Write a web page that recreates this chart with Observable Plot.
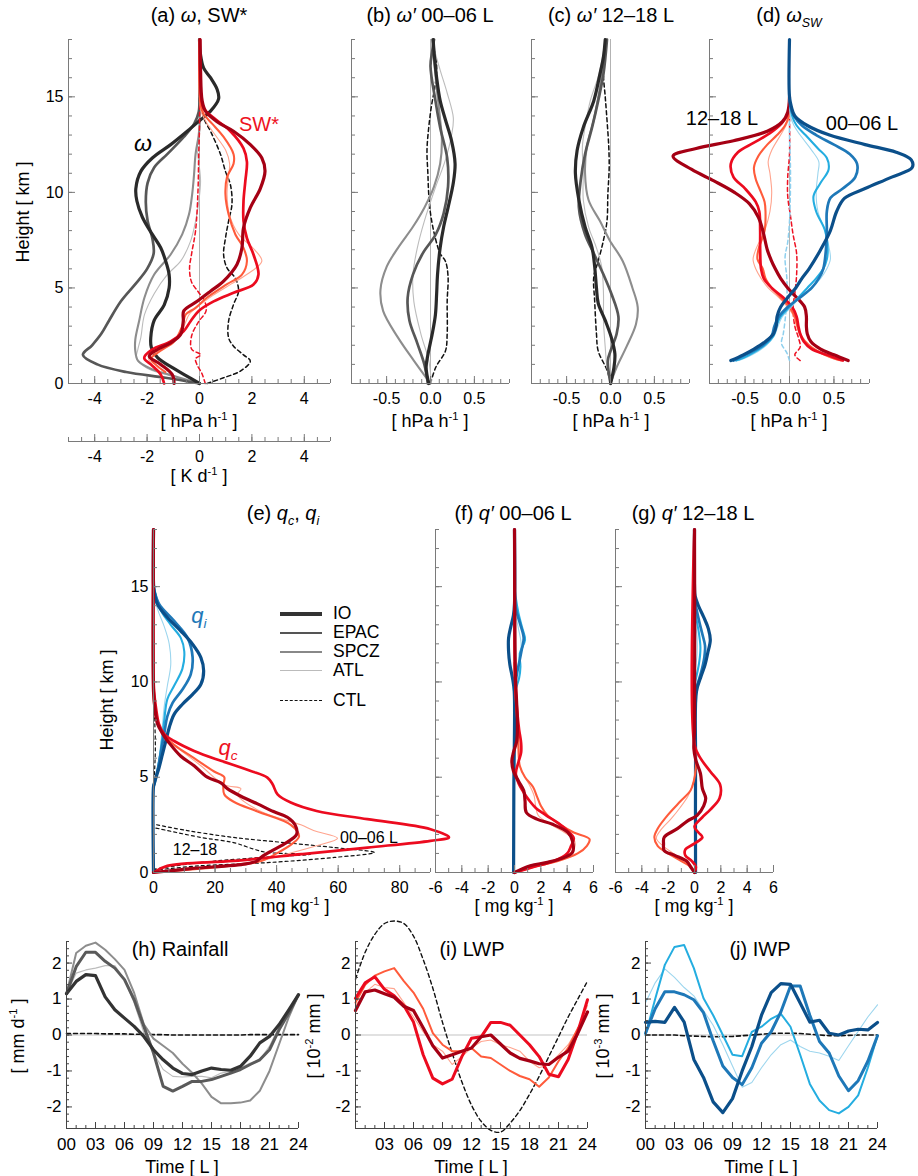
<!DOCTYPE html>
<html><head><meta charset="utf-8">
<script src="https://cdn.jsdelivr.net/npm/d3@7"></script>
<script src="https://cdn.jsdelivr.net/npm/@observablehq/plot@0.6"></script>
<style>
body{margin:0;background:#fff;font-family:"Liberation Sans",Arial,Helvetica,sans-serif;}
#root{position:relative;width:918px;height:1176px;overflow:hidden;background:#fff;}
.abs{position:absolute;white-space:nowrap;line-height:1;}
sup,sub{font-size:0.62em;line-height:0;}
</style></head><body><div id="root"></div>
<script>
// ================= DATA =================
// profiles: [height km, value]
// (a) omega [hPa/h]
const omegaIO   = [[0,0],[0.4,-0.5],[0.8,-1.0],[1.35,-1.6],[1.9,-1.84],[2.4,-1.86],[3.3,-1.73],[4.1,-1.35],[5.0,-1.16],[5.7,-1.16],[6.4,-1.29],[7.1,-1.48],[7.8,-1.8],[8.7,-2.18],[9.55,-2.39],[10.2,-2.43],[11.1,-2.24],[11.8,-1.8],[12.5,-1.1],[13.2,-0.47],[13.8,0.04],[14.25,0.42],[14.9,0.73],[15.4,0.67],[16.0,0.42],[16.5,0.16],[17.2,0.04],[18,0]];
const omegaEPAC = [[0,0],[0.3,-1.3],[0.6,-2.8],[1.0,-3.9],[1.5,-4.45],[2.0,-4.1],[2.6,-3.75],[3.3,-3.45],[4.3,-3.0],[5.2,-2.45],[6.0,-2.0],[6.8,-1.75],[7.6,-1.8],[8.5,-1.98],[9.5,-2.05],[10.5,-1.98],[11.3,-1.73],[12.0,-1.23],[12.9,-0.6],[13.6,-0.2],[14.2,-0.03],[15,0],[18,0]];
const omegaSPCZ = [[0,0],[0.4,-1.0],[0.8,-1.9],[1.2,-2.35],[1.7,-2.45],[2.3,-2.45],[3.3,-2.3],[4.5,-2.1],[5.7,-1.73],[6.75,-1.1],[7.8,-0.66],[8.85,-0.4],[9.9,-0.28],[10.9,-0.21],[12.0,-0.15],[13.0,-0.03],[13.5,0],[18,0]];
const omegaATL  = [[0,0],[0.4,-1.1],[0.8,-2.0],[1.3,-2.4],[1.8,-2.35],[2.4,-2.24],[3.6,-2.1],[4.7,-1.73],[5.7,-1.23],[6.4,-0.72],[7.45,-0.34],[8.5,-0.15],[9.5,-0.03],[10.6,0.04],[11.6,-0.03],[12.3,-0.09],[13.0,0],[18,0]];
// (a) SW* [K/d]
const swIO   = [[0,-0.97],[0.47,-1.04],[1.0,-1.48],[1.43,-1.92],[1.78,-1.6],[2.13,-1.1],[2.57,-0.72],[3.26,-0.62],[3.8,-0.6],[4.3,-0.09],[4.83,0.42],[5.36,0.92],[6.23,1.43],[7.1,1.62],[8.15,1.68],[9.2,1.94],[10.2,2.32],[11.1,2.5],[11.8,2.38],[12.5,1.94],[13.2,1.3],[13.7,0.67],[14.25,0.23],[14.8,0.1],[16.4,0.04],[18,0.02]];
const swEPAC = [[0,-1.35],[0.47,-1.48],[1.0,-1.86],[1.34,-2.11],[1.78,-1.8],[2.2,-1.1],[2.74,-0.6],[3.26,-0.34],[3.8,-0.03],[4.3,0.54],[4.75,1.3],[5.18,2.06],[5.7,2.25],[6.75,2.06],[7.6,1.81],[8.5,1.68],[9.55,1.68],[10.6,1.75],[11.6,1.81],[12.3,1.68],[13.2,1.18],[13.9,0.54],[14.4,0.16],[15,0.06],[18,0.02]];
const swSPCZ = [[0.6,-1.3],[0.9,-1.6],[1.3,-1.85],[1.7,-1.5],[2.2,-0.97],[3.0,-0.66],[3.6,-0.53],[3.96,-0.15],[4.5,0.29],[5.2,1.05],[5.7,1.62],[6.4,1.81],[7.1,1.68],[7.8,1.37],[8.85,1.11],[9.9,0.99],[10.8,1.05],[11.5,1.3],[12.0,1.3],[12.9,0.92],[13.6,0.48],[14.1,0.16],[14.6,0.04],[18,0]];
const swATL  = [[0.6,-1.5],[1.0,-1.8],[1.35,-1.95],[1.8,-1.45],[2.3,-0.95],[3.0,-0.6],[3.6,-0.4],[4.1,0.0],[4.6,0.5],[5.2,1.2],[5.7,1.8],[6.4,2.38],[7.0,2.1],[7.8,1.5],[8.8,1.15],[9.9,1.05],[10.8,1.1],[11.5,1.15],[12.2,1.0],[13.0,0.6],[13.7,0.25],[14.3,0.05],[18,0]];
const ctlA1 = [[0,0.29],[0.3,0.92],[0.65,1.56],[1.17,1.94],[1.5,1.68],[1.95,1.3],[2.4,1.11],[3.26,1.11],[4.14,1.3],[4.83,1.49],[5.5,1.37],[6.05,1.05],[6.75,0.92],[7.6,0.99],[8.5,1.11],[9.4,1.24],[10.4,1.18],[11.1,0.99],[12.0,0.8],[13.2,0.42],[13.9,0.16],[15,0.04],[18,0]];
const ctlA2 = [[0,0.22],[0.5,0.1],[1.0,-0.1],[1.3,-0.15],[1.5,0.05],[1.8,-0.3],[2.5,-0.3],[3.2,-0.05],[3.8,0.25],[4.3,0.2],[4.8,-0.05],[5.3,-0.3],[6,-0.38],[6.8,-0.3],[8,-0.15],[10,-0.06],[12,-0.03],[13.5,0],[18,0]];
// (b) omega' 00-06 L
const bIO   = [[0,-0.02],[0.85,-0.05],[1.5,-0.03],[2.6,0.02],[3.6,0.056],[4.7,0.07],[5.7,0.08],[7.1,0.11],[8.2,0.15],[9.2,0.2],[10.5,0.26],[11.5,0.28],[12.7,0.24],[13.8,0.17],[14.8,0.11],[16,0.07],[17.1,0.045],[18,0.03]];
const bEPAC = [[0,-0.03],[1,-0.07],[2.1,-0.15],[3.3,-0.24],[4.5,-0.26],[5.7,-0.2],[6.8,-0.09],[7.8,0.06],[8.9,0.15],[10.3,0.2],[11.8,0.19],[13.4,0.11],[14.8,0.056],[16.6,0.0],[17.4,0.02],[18,0.04]];
const bSPCZ = [[0,0],[1.2,-0.19],[2.4,-0.37],[3.8,-0.54],[4.9,-0.57],[6.1,-0.5],[7.1,-0.37],[8.2,-0.2],[9.2,-0.07],[10.3,0.04],[11.5,0.11],[12.7,0.13],[13.8,0.11],[15.5,0.07],[16.9,0.04],[18,0.02]];
const bATL  = [[0,0.01],[1.2,-0.02],[2.6,-0.11],[4.3,-0.19],[5.7,-0.2],[7.1,-0.15],[8.5,-0.07],[10.3,0.06],[11.7,0.17],[13.0,0.24],[13.9,0.26],[15.2,0.19],[16.4,0.11],[17.4,0.05],[18,0.04]];
const bCTL  = [[0,0],[0.85,0.06],[1.7,0.17],[2.6,0.19],[4.3,0.19],[5.6,0.2],[6.4,0.17],[6.8,0.11],[7.8,0.045],[8.9,0.0],[9.9,-0.02],[11,-0.03],[12.2,-0.04],[13.4,-0.02],[14.5,0.01],[15.7,0.056],[16.6,0.07],[17.4,0.045],[18,0.03]];
// (c) omega' 12-18 L
const cIO   = [[0,0],[0.85,0.04],[1.55,0.05],[2.4,0.01],[3.3,-0.06],[4.2,-0.14],[5.0,-0.16],[6.1,-0.18],[7.1,-0.21],[8.2,-0.29],[9.6,-0.36],[11.0,-0.4],[12.2,-0.38],[13.4,-0.31],[14.8,-0.19],[16.2,-0.12],[17.1,-0.08],[18,-0.06]];
const cEPAC = [[0,0],[1.2,-0.03],[1.7,0.0],[2.6,0.07],[3.5,0.09],[4.7,0.01],[5.7,-0.08],[6.8,-0.19],[7.8,-0.29],[9.2,-0.36],[10.6,-0.34],[12.0,-0.29],[13.4,-0.21],[14.8,-0.14],[16.2,-0.08],[18,-0.04]];
const cSPCZ = [[0,0],[0.85,0.07],[1.9,0.18],[3.1,0.29],[4.0,0.31],[5.0,0.25],[6.4,0.14],[7.5,-0.01],[8.5,-0.12],[9.6,-0.25],[11.0,-0.29],[12.4,-0.27],[13.8,-0.19],[15.5,-0.12],[16.9,-0.08],[18,-0.06]];
const cATL  = [[0,0],[0.85,-0.04],[1.9,-0.06],[3.3,-0.08],[4.7,-0.08],[6.1,-0.1],[7.1,-0.16],[8.2,-0.25],[9.6,-0.31],[11.0,-0.31],[12.4,-0.32],[13.4,-0.29],[14.8,-0.23],[16.2,-0.13],[17.4,-0.08],[18,-0.06]];
const cCTL  = [[0,0],[0.7,-0.04],[1.7,-0.14],[2.6,-0.16],[4.3,-0.18],[5.6,-0.19],[6.4,-0.14],[7.5,-0.08],[8.5,-0.04],[9.9,-0.03],[11.3,-0.015],[12.4,-0.02],[13.8,-0.04],[15,-0.06],[16.2,-0.08],[17.4,-0.06],[18,-0.04]];
// (d) omega_SW : blue 00-06 L, red 12-18 L
const dBlueIO   = [[1.2,-0.66],[1.5,-0.52],[1.8,-0.4],[2.2,-0.27],[2.6,-0.18],[3,-0.15],[3.5,-0.14],[4,-0.1],[4.5,-0.02],[5,0.07],[5.5,0.14],[6,0.22],[7,0.35],[8,0.46],[9,0.53],[9.7,0.62],[10.2,0.85],[10.8,1.15],[11.3,1.38],[11.7,1.37],[12.1,1.2],[12.5,0.85],[13,0.45],[13.5,0.2],[14,0.06],[14.5,0.02],[15,0],[18,0]];
const dBlueEPAC = [[1.2,-0.63],[1.5,-0.5],[2,-0.3],[2.5,-0.2],[3,-0.17],[3.5,-0.12],[4,-0.02],[4.5,0.12],[5,0.25],[5.5,0.33],[6,0.38],[7,0.41],[8,0.42],[9,0.42],[9.7,0.46],[10.2,0.6],[10.8,0.74],[11.5,0.76],[12,0.68],[12.5,0.5],[13,0.3],[13.5,0.14],[14,0.05],[14.5,0.01],[15,0]];
const dBlueSPCZ = [[1.2,-0.6],[1.5,-0.45],[2,-0.28],[2.5,-0.18],[3,-0.15],[3.5,-0.1],[4,0.0],[4.5,0.1],[5,0.2],[5.5,0.3],[6,0.38],[6.5,0.42],[7,0.43],[8,0.4],[9,0.3],[9.8,0.27],[10.5,0.35],[11.2,0.44],[11.8,0.42],[12.3,0.32],[13,0.18],[13.5,0.08],[14,0.03],[15,0]];
const dBlueATL  = [[1.2,-0.57],[1.5,-0.42],[2,-0.26],[2.5,-0.17],[3,-0.13],[3.5,-0.08],[4,0.02],[4.5,0.12],[5,0.25],[5.5,0.35],[6,0.42],[6.5,0.46],[7,0.45],[8,0.4],[9,0.32],[10,0.3],[11,0.32],[11.6,0.33],[12.2,0.25],[13,0.12],[13.5,0.05],[14,0.01],[15,0]];
const dRedIO    = [[1.2,0.66],[1.5,0.5],[1.8,0.35],[2.2,0.24],[2.6,0.2],[3,0.19],[3.5,0.19],[4,0.17],[4.5,0.08],[5,-0.02],[5.5,-0.1],[6,-0.16],[6.5,-0.21],[7,-0.25],[8,-0.3],[8.7,-0.35],[9.4,-0.45],[10,-0.62],[10.6,-0.85],[11.2,-1.1],[11.9,-1.31],[12.3,-1.05],[12.7,-0.63],[13.2,-0.25],[13.7,-0.08],[14.2,-0.02],[15,0]];
const dRedEPAC  = [[1.2,0.6],[1.5,0.42],[1.8,0.25],[2.2,0.16],[2.6,0.12],[3,0.1],[3.5,0.08],[4,0.03],[4.5,-0.07],[5,-0.2],[5.5,-0.29],[6,-0.32],[7,-0.33],[8,-0.33],[9,-0.34],[9.5,-0.38],[10.2,-0.5],[10.8,-0.63],[11.5,-0.66],[12.1,-0.58],[12.6,-0.4],[13.1,-0.22],[13.6,-0.09],[14,-0.03],[14.5,0]];
const dRedSPCZ  = [[1.2,0.58],[1.5,0.4],[2,0.22],[2.5,0.13],[3,0.09],[3.5,0.06],[4,0.0],[4.5,-0.1],[5,-0.2],[5.5,-0.27],[6,-0.3],[6.5,-0.36],[7,-0.35],[8,-0.28],[9,-0.27],[9.5,-0.28],[10,-0.32],[10.7,-0.38],[11.3,-0.4],[11.9,-0.35],[12.5,-0.25],[13,-0.14],[13.5,-0.05],[14,-0.01],[15,0]];
const dRedATL   = [[1.2,0.55],[1.5,0.38],[2,0.2],[2.5,0.12],[3,0.08],[3.5,0.05],[4,-0.02],[4.5,-0.12],[5,-0.24],[5.5,-0.32],[6,-0.38],[6.5,-0.41],[7,-0.38],[8,-0.28],[9,-0.22],[10,-0.2],[11,-0.22],[11.6,-0.24],[12.2,-0.2],[13,-0.1],[13.5,-0.04],[14,0],[15,0]];
const dRedCTL   = [[1.2,0.12],[1.5,0.06],[1.9,0.12],[2.4,0.1],[3,0.06],[4,0.04],[4.7,0.06],[5.7,0.08],[6.8,0.08],[7.8,0.04],[8.8,0.01],[9.8,-0.02],[10.8,-0.02],[12,0],[14,0]];
const dBlueCTL  = [[1.2,0.0],[1.6,-0.03],[2.1,-0.09],[2.6,-0.07],[3.3,-0.05],[4.3,-0.03],[5.5,-0.03],[6.6,-0.05],[7.4,-0.02],[8.5,0],[10,0.01],[11.5,0.01],[13,0],[14,0]];
// (e) q_i, q_c [mg/kg]
const qiIO   = [[0,0],[4.5,0],[4.63,0.2],[4.98,0.8],[5.5,1.8],[6.2,2.9],[6.9,4.0],[7.6,5.1],[8.3,6.7],[8.83,9.4],[9.35,12.7],[9.88,15.4],[10.58,16.3],[11.28,15.4],[11.98,12.7],[12.67,8.9],[13.37,4.6],[14.07,1.3],[14.77,0.2],[15.2,0],[18,0]];
const qiEPAC = [[4.5,0],[4.8,0.5],[5.5,1.5],[6.5,2.6],[7.3,3.5],[8.2,4.5],[8.9,6.2],[9.6,9.4],[10.4,12.1],[11.3,12.7],[12.3,11.1],[13.2,6.7],[14.1,1.8],[14.8,0.3],[15.2,0]];
const qiSPCZ = [[4.6,0],[5,0.8],[6,2.0],[7,2.8],[8,3.5],[9.1,4.5],[9.8,6.7],[10.7,9.4],[11.6,10.0],[12.3,8.9],[13.0,5.6],[13.75,2.4],[14.5,0.8],[15,0]];
const qiATL  = [[4.6,0],[5,0.7],[6,1.8],[7,2.5],[7.7,2.9],[8.75,3.5],[9.8,4.5],[10.9,5.6],[12.0,5.1],[12.9,3.5],[13.6,1.8],[14.1,0.8],[14.5,0.2],[14.8,0]];
const qcIO   = [[0,0],[0.2,12],[0.45,30],[0.6,33.5],[0.8,35],[1.1,38],[1.5,42.5],[2.0,46.5],[2.5,46],[2.9,43.5],[3.2,39],[3.6,33.8],[4.0,28.4],[4.4,24],[4.7,21.9],[5.0,17.5],[5.6,13.2],[6.1,8.9],[6.8,5.1],[7.3,2.9],[7.8,1.3],[8.7,0.4],[9.5,0],[18,0]];
const qcEPAC = [[0,0],[0.35,4.5],[0.61,26],[0.96,48],[1.31,69.5],[1.66,90],[1.85,96],[2.27,90],[2.8,69.5],[3.23,53],[3.67,44.6],[4.1,40.3],[4.63,38.7],[4.98,37],[5.33,31.6],[5.86,21.9],[6.38,13.2],[6.9,6.7],[7.26,3.5],[7.78,1.8],[8.65,0.8],[9.5,0.2],[10.5,0],[18,0]];
const qcSPCZ = [[0,0],[0.3,22],[0.6,35],[1.0,40],[1.5,45],[1.9,47.3],[2.5,44.6],[3.2,33.8],[3.7,26.2],[4.1,23],[4.6,22.7],[5.0,23],[5.3,19.7],[6.0,13.2],[6.7,6.7],[7.2,3.5],[7.8,1.5],[8.5,0.4],[9.5,0]];
const qcATL  = [[0,0],[0.3,20],[0.6,34],[1.0,44],[1.4,53],[1.8,59.8],[2.2,52],[2.5,47.9],[3.2,34.9],[4.1,27.3],[4.4,28.4],[4.6,23],[5.6,15.4],[6.7,6.7],[7.4,2.4],[8.5,0.4],[9.5,0]];
const qcCTL0006 = [[0.12,0],[0.35,15],[0.52,37],[0.79,58.7],[1.05,71.7],[1.31,58.7],[1.57,42.5],[1.84,26],[2.2,11],[2.53,0.2]];
const qcCTL1218 = [[0.17,0],[0.52,15],[0.79,35],[0.96,51],[1.05,37],[1.22,32.7],[1.57,26],[1.84,15.4],[2.36,0]];
const qiCTL = [[4.5,0],[5.5,0.4],[6.5,0.6],[7.5,0.5],[8.5,0.2],[9.2,0]];
// (f) q' 00-06 L
const fRedIO   = [[0,0],[0.35,1.2],[0.52,2.4],[0.7,3.4],[1.05,4.4],[1.66,4.4],[2.1,4.05],[2.53,2.9],[2.8,1.7],[3.15,0.9],[3.76,0.8],[4.3,0.7],[4.8,0.3],[5.33,-0.08],[5.86,-0.2],[6.3,-0.08],[6.9,0.17],[7.8,0.22],[8.8,0.17],[10.2,0.08],[13,0.03],[18,0]];
const fRedEPAC = [[0,0],[0.3,1.5],[0.6,3.0],[1.0,4.0],[1.4,4.3],[1.8,4.5],[2.2,4.0],[2.6,3.3],[3.0,2.4],[3.4,1.6],[3.8,1.1],[4.2,0.7],[4.7,0.3],[5.2,0.1],[5.8,0.3],[6.3,0.5],[6.8,0.5],[7.5,0.35],[8.5,0.2],[10,0.05],[12,0],[18,0]];
const fRedSPCZ = [[0,0],[0.3,1.5],[0.6,3.3],[1.0,4.8],[1.4,5.5],[1.75,5.7],[2.1,4.5],[2.5,3.5],[3.0,2.5],[3.5,2.0],[4.0,1.7],[4.5,1.4],[5.0,0.8],[5.6,0.4],[6.5,0.3],[7.5,0.25],[9,0.1],[11,0]];
const fRedATL  = [[0,0],[0.3,1.3],[0.6,3.0],[1.0,4.2],[1.4,4.6],[1.75,4.5],[2.1,3.8],[2.5,2.8],[3.0,1.8],[3.5,1.6],[4.0,1.5],[4.5,1.2],[5.0,0.8],[5.6,0.4],[6.5,0.35],[7.5,0.3],[9,0.1],[11,0]];
const fBlueIO   = [[0,-0.07],[4.5,-0.05],[9.5,-0.02],[10.2,-0.15],[10.9,-0.35],[11.6,-0.45],[12.3,-0.45],[12.9,-0.28],[13.5,-0.08],[14.1,0],[18,0]];
const fBlueEPAC = [[9.5,0],[10.3,0.15],[11.0,0.35],[11.7,0.55],[12.3,0.7],[13.0,0.45],[13.7,0.15],[14.3,0]];
const fBlueSPCZ = [[9.0,0],[9.5,0.05],[10.2,0.35],[10.8,0.45],[11.5,0.4],[12.2,0.8],[12.8,0.6],[13.6,0.3],[14.5,0.08],[15,0]];
const fBlueATL  = [[9.5,0],[10,0.1],[11,0.3],[12,0.5],[12.8,0.3],[13.5,0.1],[14.5,0]];
// (g) q' 12-18 L
const gRedIO   = [[0,0],[0.3,-0.3],[0.6,-0.6],[0.9,-1.5],[1.15,-2.3],[1.5,-2.35],[1.85,-2.3],[2.3,-1.3],[2.7,-0.55],[3.0,0.2],[3.5,0.7],[3.9,0.85],[4.4,0.6],[5.2,0.45],[5.9,0.1],[6.5,-0.05],[7.5,0],[18,0]];
const gRedEPAC = [[0,0],[0.3,0.1],[0.6,-0.2],[0.9,-0.7],[1.2,-0.7],[1.5,-0.05],[1.85,0.6],[2.1,0.3],[2.4,0.0],[2.9,0.6],[3.3,1.2],[3.9,1.9],[4.6,1.95],[5.3,1.2],[6.0,0.45],[6.7,0],[18,0]];
const gRedSPCZ = [[0,0],[0.3,-0.3],[0.6,-1.0],[1.0,-2.0],[1.4,-2.8],[1.85,-3.05],[2.3,-2.8],[3.0,-2.05],[3.75,-1.05],[4.3,-0.3],[4.8,-0.05],[5.5,0.1],[6.5,0]];
const gRedATL  = [[0,0],[0.3,-0.2],[0.6,-0.8],[1.0,-1.6],[1.4,-2.4],[1.8,-2.9],[2.2,-2.6],[2.8,-1.8],[3.4,-1.1],[4.0,-0.5],[4.5,-0.2],[5.0,0],[6,0.1],[7,0]];
const gBlueIO   = [[0,0.08],[6,0.08],[9.5,0.15],[10.3,0.5],[10.9,0.8],[11.5,1.0],[12.2,1.2],[12.8,1.05],[13.4,0.7],[14.0,0.3],[14.5,0.05],[15,0],[18,0]];
const gBlueEPAC = [[9.5,0.05],[10.5,0.5],[11.3,0.75],[11.9,0.8],[12.5,0.6],[13.2,0.35],[14.0,0.1],[14.5,0]];
const gBlueSPCZ = [[10,0.05],[11,0.35],[11.8,0.45],[12.5,0.35],[13.3,0.15],[14,0]];
const gBlueATL  = [[10.5,0.03],[11.5,0.2],[12.3,0.2],[13.3,0.05],[14,0]];
// time series (hour 0..24 local)
const hours = [0,1,2,3,4,5,6,7,8,9,10,11,12,13,14,15,16,17,18,19,20,21,22,23,24];
const hourLabels = ["00","03","06","09","12","15","18","21","24"];
const rainIO   = [1.15,1.49,1.68,1.65,1.06,0.7,0.47,0.24,-0.04,-0.41,-0.69,-0.92,-1.07,-1.1,-1.0,-0.92,-0.96,-0.98,-0.87,-0.59,-0.22,-0.04,0.29,0.7,1.12];
const rainEPAC = [1.15,1.9,2.3,2.3,2.05,1.86,1.54,0.98,0.24,-0.5,-1.43,-1.56,-1.43,-1.29,-1.29,-1.24,-1.15,-1.06,-0.96,-0.82,-0.69,-0.41,0.15,0.61,1.12];
const rainSPCZ = [1.15,2.28,2.48,2.57,2.37,2.11,1.81,1.17,0.3,-0.1,-0.3,-0.5,-0.8,-1.05,-1.35,-1.72,-1.9,-1.9,-1.88,-1.82,-1.55,-1.0,-0.25,0.5,1.12];
const rainATL  = [1.15,1.72,1.81,1.86,1.93,1.93,1.54,0.89,0.06,-0.5,-0.96,-1.15,-1.17,-1.15,-1.15,-1.19,-1.06,-1.01,-0.92,-0.78,-0.69,-0.31,0.24,0.7,1.12];
const rainCTL  = [0.04,0.04,0.04,0.04,0.03,0.03,0.03,0.02,0.02,0.01,0.01,0,0,0,0,0,0,0,0,0.01,0.01,0.01,0.01,0.01,0.01];
const lwpIO   = [0.68,1.2,1.25,1.15,1.05,0.8,0.68,0.2,-0.3,-0.64,-0.55,-0.45,-0.36,-0.05,0.0,-0.25,-0.5,-0.65,-0.72,-0.8,-0.82,-0.62,-0.45,0.05,0.64];
const lwpEPAC = [1.02,1.45,1.62,1.27,1.09,0.82,0.36,-0.55,-1.2,-1.36,-1.23,-0.6,-0.09,-0.05,0.35,0.35,0.27,0.0,-0.27,-0.6,-1.09,-1.16,-0.68,0.09,0.98];
const lwpSPCZ = [0.9,1.4,1.65,1.77,1.86,1.5,1.18,0.73,0.05,-0.27,-0.45,-0.45,-0.36,-0.6,-0.64,-0.82,-1.0,-1.14,-1.23,-1.44,-1.18,-0.73,-0.36,0.18,0.64];
const lwpATL  = [0.82,1.18,1.41,1.32,1.29,0.9,0.5,0.09,-0.27,-0.45,-0.82,-0.6,-0.36,-0.18,-0.14,-0.27,-0.35,-0.45,-0.73,-0.91,-0.82,-0.55,-0.27,0.18,0.82];
const lwpCTL  = [1.55,2.3,2.8,3.1,3.17,3.1,2.75,2.1,1.3,0.35,-0.5,-1.3,-1.95,-2.4,-2.65,-2.7,-2.45,-2.1,-1.65,-1.15,-0.6,-0.05,0.5,1.0,1.5];
const iwpIO   = [0.35,0.38,0.35,0.77,0.36,-0.68,-1.18,-1.86,-2.16,-1.77,-1.0,-0.32,0.55,1.18,1.43,1.41,0.89,0.36,0.41,0.05,0.0,0.11,0.16,0.14,0.35];
const iwpEPAC = [0.05,0.73,1.2,1.2,1.12,0.98,0.62,-0.16,-0.86,-1.18,-1.38,-0.91,-0.23,0.09,0.64,1.36,1.36,0.55,-0.18,-0.5,-1.14,-1.55,-1.27,-0.73,-0.02];
const iwpSPCZ = [0.0,1.0,1.95,2.45,2.5,1.86,1.02,0.55,0.0,-0.55,-0.59,0.09,0.23,0.45,0.59,0.23,-0.55,-1.36,-1.82,-2.09,-2.18,-2.0,-1.68,-0.91,-0.02];
const iwpATL  = [0.9,1.45,1.84,1.6,1.32,1.09,0.68,0.27,-0.27,-0.86,-1.45,-1.32,-0.91,-0.55,-0.27,-0.14,-0.32,-0.45,-0.5,-0.59,-0.71,-0.3,0.1,0.5,0.84];
const iwpCTL  = [0,0,0,0,-0.02,-0.03,-0.04,-0.05,-0.05,-0.04,-0.02,0,0.02,0.04,0.05,0.05,0.04,0.02,0,-0.02,-0.02,-0.01,0,0,0];
// tick values
const ticksOmega = [-4,-2,0,2,4];
const ticksSmall = [-0.5,0,0.5];
const ticksQ = [0,20,40,60,80];
const ticksQp = [-6,-4,-2,0,2,4,6];
const ticksHeight = [0,5,10,15];
const ticksTS = [-2,-1,0,1,2];
const ticksHour = [0,3,6,9,12,15,18,21,24];
const regions = ["IO","EPAC","SPCZ","ATL"];

// ================= STYLE =================
const FONT = '"Liberation Sans", Arial, Helvetica, sans-serif';
const AX = "#7a7a7a";
const gray = {IO:"#2a2a2a", EPAC:"#575757", SPCZ:"#8d8d8d", ATL:"#bcbcbc"};
const red  = {IO:"#a50014", EPAC:"#ec0b1f", SPCZ:"#ff5b3b", ATL:"#ffa48e"};
const blue = {IO:"#0b4f8a", EPAC:"#1e78b8", SPCZ:"#24ade0", ATL:"#9dd6ee"};
const lw   = {IO:3.2, EPAC:2.7, SPCZ:2.1, ATL:1.1};

const root = document.getElementById("root");
function place(el, left, top){ el.style.position="absolute"; el.style.left=left+"px"; el.style.top=top+"px"; root.appendChild(el); }
function txt(html, x, y, o={}){
  const d=document.createElement("div"); d.className="abs"; d.innerHTML=html;
  d.style.left=x+"px"; d.style.top=y+"px"; d.style.fontSize=(o.size||18)+"px"; d.style.color=o.color||"#000";
  const tx = o.anchor==="start"?"0":o.anchor==="end"?"-100%":"-50%";
  d.style.transform=`translate(${tx},-50%)`+(o.rotate?` rotate(${o.rotate}deg)`:"");
  root.appendChild(d);
}
const fmtInt = d => String(d);
const fmt1 = d => d.toFixed(1);
const stepRange = (a,b,n) => d3.range(Math.round(a*n), Math.round(b*n)+1).map(k=>k/n);
const STYLE = {background:"transparent", overflow:"visible", fontFamily:FONT, fontSize:"16px", color:"#000"};

function axes({pw, ph, xd, yd, xMajor, xMinor, xFmt, xShow=xMajor, yMajor, yMinor, yFmt, showY, color=AX, fs=16, maj=7, min=4}){
  const m = [
    Plot.ruleY([yd[0]], {stroke: color, strokeWidth: 1}),
    Plot.ruleX([xd[0]], {stroke: color, strokeWidth: 1}),
    Plot.tickX(xMinor, {x: d=>d, stroke: color, insetTop: ph - min}),
    Plot.tickX(xMajor, {x: d=>d, stroke: color, insetTop: ph - maj}),
    Plot.tickY(yMinor, {y: d=>d, stroke: color, insetRight: pw - min}),
    Plot.tickY(yMajor, {y: d=>d, stroke: color, insetRight: pw - maj}),
    Plot.axisX({ticks: xShow, tickSize: 0, tickPadding: 9, tickFormat: xFmt, label: null, fontSize: fs, fill: "#000"})
  ];
  if (showY) m.push(Plot.axisY({ticks: yMajor, tickSize: 0, tickPadding: 5, tickFormat: yFmt, label: null, fontSize: fs, fill: "#000"}));
  return m;
}
function prof(data, color, w, dash){
  return Plot.line(data, {x: d=>d[1], y: d=>d[0], stroke: color, strokeWidth: w, strokeDasharray: dash, curve: "catmull-rom", strokeLinejoin: "round"});
}
function profilePanel(o){
  const mL=50, mR=70, mT=30, mB=45;
  const pw=o.x1-o.x0, ph=o.y1-o.y0;
  const marks = [];
  if (o.zero) marks.push(Plot.ruleX([0], {stroke:"#b3b3b3", strokeWidth:1}));
  marks.push(...o.lines);
  marks.push(...axes({pw, ph, xd:o.xd, yd:[0,18], xMajor:o.xMajor, xMinor:o.xMinor, xFmt:o.xFmt, yMajor:ticksHeight, yMinor:stepRange(0,18,1), yFmt:fmtInt, showY:o.showY}));
  const svg = Plot.plot({width:pw+mL+mR, height:ph+mT+mB, marginLeft:mL, marginRight:mR, marginTop:mT, marginBottom:mB,
    x:{domain:o.xd, label:null}, y:{domain:[0,18], label:null, axis: o.showY ? undefined : null}, style:STYLE, marks});
  place(svg, o.x0-mL, o.y0-mT);
}
function ts(arr){ return hours.map((t,i)=>[t, arr[i]]); }
function tsLine(arr, color, w, dash, curve="linear"){
  return Plot.line(ts(arr), {x:d=>d[0], y:d=>d[1], stroke:color, strokeWidth:w, strokeDasharray:dash, curve, strokeLinejoin:"round"});
}
function timePanel(o){
  const mL=50, mR=40, mT=40, mB=45;
  const pw=o.x1-o.x0, ph=o.y1-o.y0;
  const xd=[0,24], yd=[-2.6,2.6];
  const marks=[Plot.ruleY([0], {stroke:"#c4c4c4", strokeWidth:1.2}), ...o.lines,
    ...axes({pw, ph, xd, yd, xMajor:ticksHour, xMinor:hours, xShow:o.xShow, xFmt:d=>hourLabels[d/3],
      yMajor:ticksTS, yMinor:stepRange(-2.6,2.6,5), yFmt:fmtInt, showY:true, color:"#444", fs:17, maj:6, min:3})];
  const svg = Plot.plot({width:pw+mL+mR, height:ph+mT+mB, marginLeft:mL, marginRight:mR, marginTop:mT, marginBottom:mB,
    x:{domain:xd, label:null}, y:{domain:yd, label:null}, style:STYLE, marks});
  place(svg, o.x0-mL, o.y0-mT);
}
function four(arrs, pal){ return regions.slice().reverse().map(r => prof(arrs[r], pal[r], lw[r])); }

// ================= ROW 1 =================
const minorOmega = stepRange(-5,5,2);
const minorSmall = stepRange(-0.9,0.9,10);
profilePanel({x0:68, x1:330, y0:39, y1:383, xd:[-5,5], xMajor:ticksOmega, xMinor:minorOmega, xFmt:fmtInt, showY:true, zero:true,
  lines:[ ...four({IO:omegaIO,EPAC:omegaEPAC,SPCZ:omegaSPCZ,ATL:omegaATL}, gray),
          prof(ctlA1,"#111",1.5,"4,3"), prof(ctlA2,"#ee1122",1.5,"4,3"),
          ...four({IO:swIO,EPAC:swEPAC,SPCZ:swSPCZ,ATL:swATL}, red) ]});
profilePanel({x0:351, x1:509, y0:39, y1:383, xd:[-0.9,0.9], xMajor:ticksSmall, xMinor:minorSmall, xFmt:fmt1, zero:true,
  lines:[ prof(bCTL,"#111",1.5,"4,3"), ...four({IO:bIO,EPAC:bEPAC,SPCZ:bSPCZ,ATL:bATL}, gray) ]});
profilePanel({x0:531, x1:689, y0:39, y1:383, xd:[-0.9,0.9], xMajor:ticksSmall, xMinor:minorSmall, xFmt:fmt1, zero:true,
  lines:[ prof(cCTL,"#111",1.5,"4,3"), ...four({IO:cIO,EPAC:cEPAC,SPCZ:cSPCZ,ATL:cATL}, gray) ]});
profilePanel({x0:709, x1:869, y0:39, y1:383, xd:[-0.9,0.9], xMajor:ticksSmall, xMinor:minorSmall, xFmt:fmt1, zero:true,
  lines:[ prof(dRedCTL,"#ee1122",1.5,"4,3"), prof(dBlueCTL,"#8fd0ee",1.5,"4,3"),
          ...four({IO:dRedIO,EPAC:dRedEPAC,SPCZ:dRedSPCZ,ATL:dRedATL}, red),
          ...four({IO:dBlueIO,EPAC:dBlueEPAC,SPCZ:dBlueSPCZ,ATL:dBlueATL}, blue) ]});
// secondary K/d axis under (a)
{
  const mL=50, mR=70, ph=10;
  const svg = Plot.plot({width:262+mL+mR, height:60, marginLeft:mL, marginRight:mR, marginTop:10, marginBottom:40,
    x:{domain:[-5,5], label:null}, y:{domain:[0,1], label:null, axis:null}, style:STYLE,
    marks:[ Plot.ruleY([0], {stroke:AX}),
      Plot.tickX(minorOmega, {x:d=>d, stroke:AX, insetTop: ph-4}),
      Plot.tickX(ticksOmega, {x:d=>d, stroke:AX, insetTop: ph-7}),
      Plot.axisX({ticks:ticksOmega, tickSize:0, tickPadding:9, tickFormat:fmtInt, label:null, fontSize:16, fill:"#000"}) ]});
  place(svg, 68-mL, 441-20);
}

// ================= ROW 2 =================
profilePanel({x0:153, x1:430, y0:529, y1:872, xd:[0,90], xMajor:ticksQ, xMinor:stepRange(0,90,0.2), xFmt:fmtInt, showY:true,
  lines:[ prof(qcCTL0006,"#111",1.2,"3,3"), prof(qcCTL1218,"#111",1.2,"3,3"), prof(qiCTL,"#111",1.2,"3,3"),
          ...four({IO:qiIO,EPAC:qiEPAC,SPCZ:qiSPCZ,ATL:qiATL}, blue),
          ...four({IO:qcIO,EPAC:qcEPAC,SPCZ:qcSPCZ,ATL:qcATL}, red) ]});
profilePanel({x0:435, x1:593, y0:529, y1:872, xd:[-6,6], xMajor:ticksQp, xMinor:stepRange(-6,6,1), xFmt:fmtInt,
  lines:[ ...four({IO:fBlueIO,EPAC:fBlueEPAC,SPCZ:fBlueSPCZ,ATL:fBlueATL}, blue),
          ...four({IO:fRedIO,EPAC:fRedEPAC,SPCZ:fRedSPCZ,ATL:fRedATL}, red) ]});
profilePanel({x0:615, x1:773, y0:529, y1:872, xd:[-6,6], xMajor:ticksQp, xMinor:stepRange(-6,6,1), xFmt:fmtInt,
  lines:[ ...four({IO:gBlueIO,EPAC:gBlueEPAC,SPCZ:gBlueSPCZ,ATL:gBlueATL}, blue),
          ...four({IO:gRedIO,EPAC:gRedEPAC,SPCZ:gRedSPCZ,ATL:gRedATL}, red) ]});

// ================= ROW 3 =================
const tsW = {IO:3.2, EPAC:3.0, SPCZ:2.0, ATL:1.1};
function fourTS(arrs, pal){ return regions.slice().reverse().map(r => tsLine(arrs[r], pal[r], tsW[r])); }
timePanel({x0:66, x1:298, y0:941, y1:1128, xShow:ticksHour,
  lines:[ tsLine(rainCTL,"#111",1.6,"4,3"), ...fourTS({IO:rainIO,EPAC:rainEPAC,SPCZ:rainSPCZ,ATL:rainATL}, {IO:"#333",EPAC:"#5a5a5a",SPCZ:"#8d8d8d",ATL:"#bcbcbc"}) ]});
timePanel({x0:355, x1:587, y0:941, y1:1128, xShow:ticksHour.slice(1),
  lines:[ tsLine(lwpCTL,"#111",1.4,"4,3","catmull-rom"), ...fourTS({IO:lwpIO,EPAC:lwpEPAC,SPCZ:lwpSPCZ,ATL:lwpATL}, red) ]});
timePanel({x0:645, x1:877, y0:941, y1:1128, xShow:ticksHour,
  lines:[ tsLine(iwpCTL,"#111",1.6,"4,3"), ...fourTS({IO:iwpIO,EPAC:iwpEPAC,SPCZ:iwpSPCZ,ATL:iwpATL}, blue) ]});

// ================= TEXT =================
const S = '<sup>-1</sup>';
txt('(a) <i>ω</i>, SW*', 199, 15, {size:20});
txt('(b) <i>ω′</i> 00–06 L', 430, 15, {size:20});
txt('(c) <i>ω′</i> 12–18 L', 611, 15, {size:20});
txt('(d) <i>ω<sub>SW</sub></i>', 789, 15, {size:20});
txt('Height [ km ]', 23, 212, {rotate:-90});
txt('[ hPa h'+S+' ]', 199, 421);
txt('[ hPa h'+S+' ]', 430, 421);
txt('[ hPa h'+S+' ]', 611, 421);
txt('[ hPa h'+S+' ]', 789, 421);
txt('[ K d'+S+' ]', 199, 476);
txt('<i>ω</i>', 143, 143, {size:23});
txt('SW*', 259, 124, {size:20, color:"#ee1122"});
txt('12–18 L', 722, 118, {size:20});
txt('00–06 L', 862, 123, {size:20});

txt('(e) <i>q<sub>c</sub></i>, <i>q<sub>i</sub></i>', 283, 513, {size:20});
txt('(f) <i>q′</i> 00–06 L', 513, 513, {size:20});
txt('(g) <i>q′</i> 12–18 L', 693, 513, {size:20});
txt('Height [ km ]', 107, 700, {rotate:-90});
txt('[ mg kg'+S+' ]', 290, 906);
txt('[ mg kg'+S+' ]', 514, 906);
txt('[ mg kg'+S+' ]', 694, 906);
txt('<i>q<sub>i</sub></i>', 199, 616, {size:22, color:"#1e78b8"});
txt('<i>q<sub>c</sub></i>', 228, 748, {size:22, color:"#ee1122"});
txt('00–06 L', 369, 838, {size:16});
txt('12–18', 195, 850, {size:16});
// legend
const legendRows = [["IO",614,"#333",4,"solid"],["EPAC",633,"#555",2.8,"solid"],["SPCZ",652,"#888",2.8,"solid"],["ATL",671,"#bbb",1.4,"solid"],["CTL",701,"#111",1.3,"dashed"]];
for (const [name,y,c,w,st] of legendRows){
  const l=document.createElement("div"); l.className="abs";
  l.style.left="280px"; l.style.width="42px"; l.style.top=(y-w/2)+"px"; l.style.borderTop=`${w}px ${st} ${c}`;
  root.appendChild(l);
  txt(name, 333, y, {size:17.5, anchor:"start"});
}

txt('(h) Rainfall', 180, 949, {size:20});
txt('(i) LWP', 472, 949, {size:20});
txt('(j) IWP', 760, 949, {size:20});
txt('[ mm d'+S+' ]', 18, 1036, {rotate:-90});
txt('[ 10<sup>-2</sup> mm ]', 314, 1036, {rotate:-90});
txt('[ 10<sup>-3</sup> mm ]', 603, 1036, {rotate:-90});
txt('Time [ L ]', 182, 1167);
txt('Time [ L ]', 471, 1167);
txt('Time [ L ]', 761, 1167);
</script></body></html>
